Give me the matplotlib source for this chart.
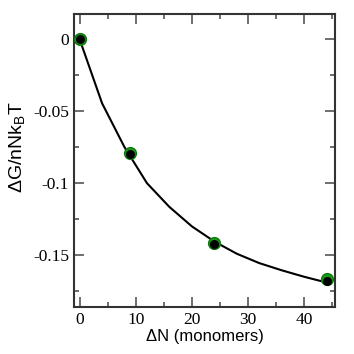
import matplotlib
matplotlib.use("Agg")
from matplotlib import pyplot as plt
from matplotlib.ticker import MultipleLocator

# curve (fit line)
curve_x = [0, 4, 8, 12, 16, 20, 24, 28, 32, 36, 40, 44]
curve_y = [0.0, -0.0445, -0.075, -0.100, -0.1165, -0.130, -0.1405, -0.149, -0.1555, -0.1605, -0.165, -0.169]

# simulation points
pts_x = [0, 9, 24, 44]
green_y = [0.0, -0.0790, -0.1415, -0.1665]
black_y = [0.0, -0.0795, -0.1425, -0.1680]

plt.rcParams['mathtext.default'] = 'regular'

fig = plt.figure(figsize=(3.54, 3.54), dpi=100)
ax = fig.add_axes([74/354, 1-307/354, (335-74)/354, (307-14)/354])

ax.plot(curve_x, curve_y, color='black', lw=1.5, zorder=2)
ax.plot(pts_x, green_y, 'o', color='#1a9a1a', ms=8.5, mec='#0a7a0a', zorder=3)
ax.plot(pts_x, black_y, 'o', color='black', ms=5.5, zorder=4)

ax.set_xlim(-1, 45.5)
ax.set_ylim(-0.186, 0.0175)

ax.xaxis.set_minor_locator(MultipleLocator(5))
ax.yaxis.set_minor_locator(MultipleLocator(0.025))
ax.set_yticks([0, -0.05, -0.1, -0.15])
ax.set_yticklabels(['0', '-0.05', '-0.1', '-0.15'])
ax.set_xticks([0, 10, 20, 30, 40])
ax.set_xticklabels(['0', '10', '20', '30', '40'])

ax.tick_params(which='both', direction='in', top=True, right=True, width=1.2, colors='#555555',
               labelcolor='black')
ax.tick_params(which='major', length=7)
ax.tick_params(which='minor', length=3.5)
for lab in ax.get_xticklabels() + ax.get_yticklabels():
    lab.set_fontfamily('Liberation Serif')
    lab.set_fontsize(12.5)

for s in ax.spines.values():
    s.set_linewidth(1.5)
    s.set_color('#333333')

ax.set_xlabel('ΔN (monomers)', family='Liberation Sans', fontsize=12, labelpad=1)
ax.set_ylabel('ΔG/nNk$_B$T', family='Liberation Sans', fontsize=14)
ax.yaxis.set_label_coords(-0.18, 0.545)

fig.savefig('out.png', dpi=100)
